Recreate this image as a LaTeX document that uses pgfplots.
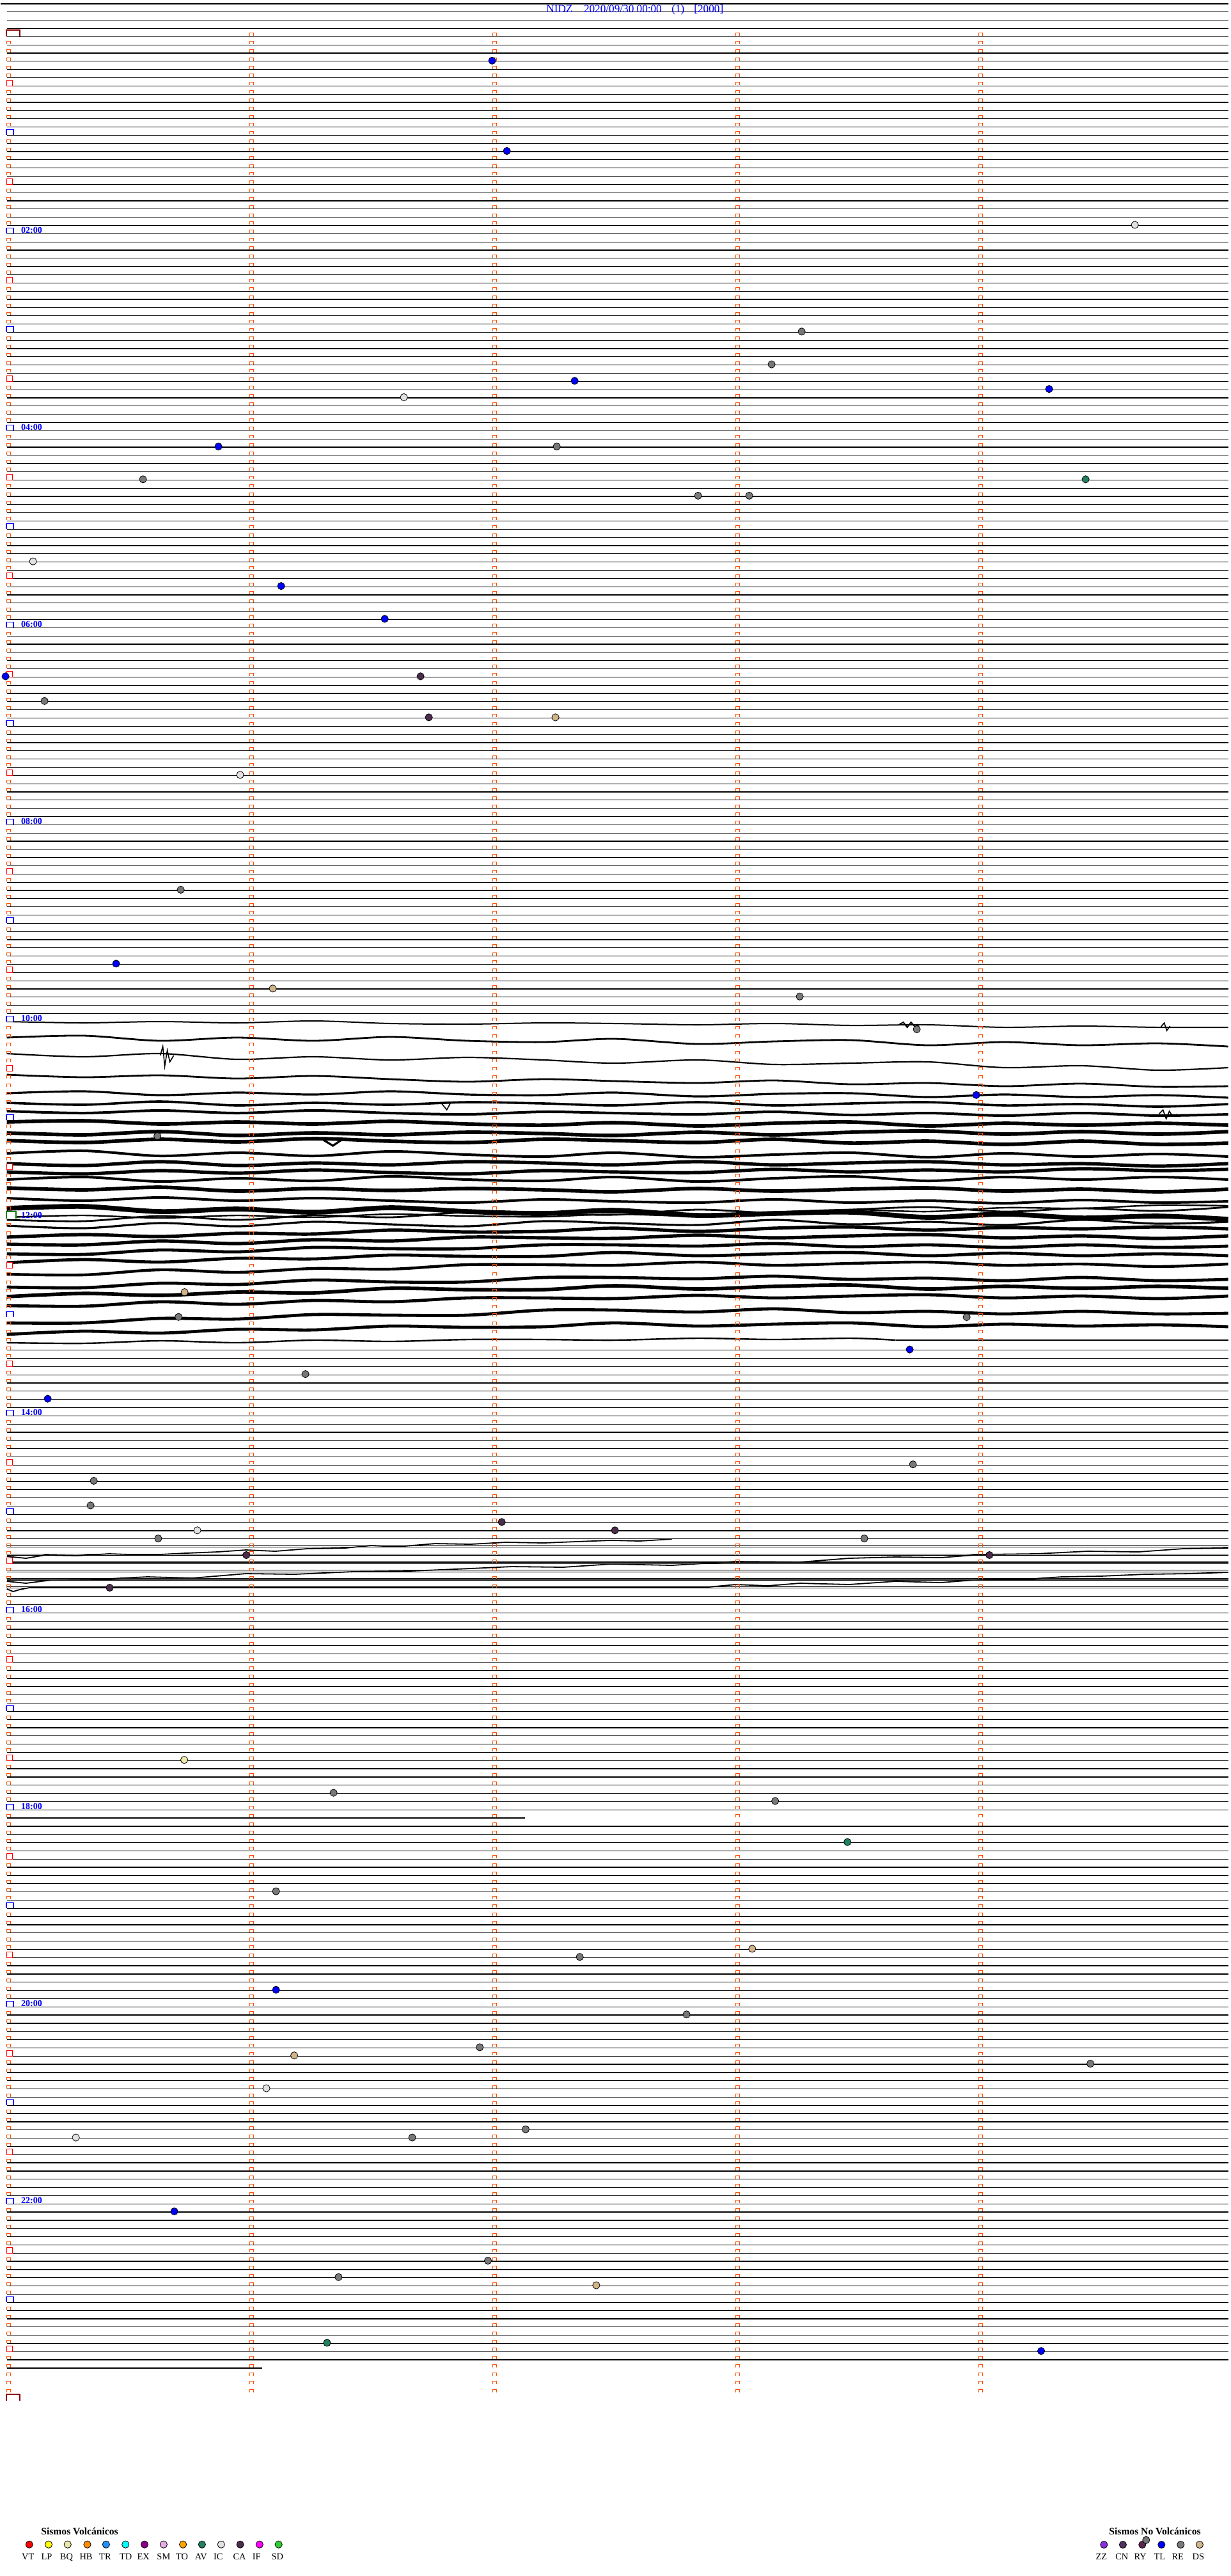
\documentclass[border=0pt]{standalone}
\usepackage{pgfplots}
\pgfplotsset{compat=1.18}
\usepackage{fontspec}
\setmainfont{Liberation Serif}
\definecolor{mkor}{RGB}{255,80,0}
\definecolor{dayred}{RGB}{139,0,0}
\definecolor{noon}{RGB}{0,128,0}
\definecolor{cVT}{RGB}{255,0,0}
\definecolor{cLP}{RGB}{255,255,0}
\definecolor{cBQ}{RGB}{238,232,170}
\definecolor{cHB}{RGB}{255,140,0}
\definecolor{cTR}{RGB}{30,144,255}
\definecolor{cTD}{RGB}{0,255,255}
\definecolor{cEX}{RGB}{139,0,139}
\definecolor{cSM}{RGB}{232,170,232}
\definecolor{cTO}{RGB}{255,165,0}
\definecolor{cAV}{RGB}{32,128,96}
\definecolor{cIC}{RGB}{225,225,225}
\definecolor{cCA}{RGB}{75,45,75}
\definecolor{cIF}{RGB}{255,0,255}
\definecolor{cSD}{RGB}{50,205,50}
\definecolor{cZZ}{RGB}{138,43,226}
\definecolor{cCN}{RGB}{80,50,90}
\definecolor{cRY}{RGB}{90,40,80}
\definecolor{cTL}{RGB}{0,0,255}
\definecolor{cRE}{RGB}{120,120,120}
\definecolor{cDS}{RGB}{210,180,140}

\pgfdeclareplotmark{hourmk}{%
 \pgfpathrectangle{\pgfpoint{-0.93pt}{0pt}}{\pgfpoint{2.86pt}{2.2pt}}%
 \pgfsetfillcolor{white}\pgfusepath{fill}%
 \pgfpathmoveto{\pgfpoint{-0.93pt}{0pt}}\pgfpathlineto{\pgfpoint{-0.93pt}{2.2pt}}%
 \pgfpathlineto{\pgfpoint{1.93pt}{2.2pt}}\pgfpathlineto{\pgfpoint{1.93pt}{0pt}}%
 \pgfusepath{stroke}}
\pgfdeclareplotmark{halfmk}{%
 \pgfpathrectangle{\pgfpoint{-0.75pt}{0pt}}{\pgfpoint{2.18pt}{2.25pt}}%
 \pgfsetfillcolor{white}\pgfusepath{fill,stroke}}
\pgfdeclareplotmark{daymk}{%
 \pgfpathrectangle{\pgfpoint{-1pt}{0pt}}{\pgfpoint{5.43pt}{2.65pt}}%
 \pgfsetfillcolor{white}\pgfusepath{fill}%
 \pgfpathmoveto{\pgfpoint{-1pt}{0pt}}\pgfpathlineto{\pgfpoint{-1pt}{2.65pt}}%
 \pgfpathlineto{\pgfpoint{4.43pt}{2.65pt}}\pgfpathlineto{\pgfpoint{4.43pt}{0pt}}%
 \pgfusepath{stroke}}
\pgfdeclareplotmark{noonmk}{%
 \pgfpathrectangle{\pgfpoint{-0.8pt}{0pt}}{\pgfpoint{3.68pt}{2.75pt}}%
 \pgfsetfillcolor{white}\pgfusepath{fill}%
 \pgfpathmoveto{\pgfpoint{-0.8pt}{0pt}}\pgfpathlineto{\pgfpoint{-0.8pt}{2.75pt}}%
 \pgfpathlineto{\pgfpoint{2.88pt}{2.75pt}}\pgfpathlineto{\pgfpoint{2.88pt}{0pt}}%
 \pgfusepath{stroke}}

\pgfplotsset{
 trace/.style={black, line join=round, smooth},
 ftrace/.style={black, line join=round},
 ev/.style={only marks, mark=*, mark size=1.4pt, mark options={fill=#1, draw=black, line width=0.2pt}},
 side/.style={mkor, line width=0.25pt, dash pattern=on 1.25pt off 1.95833pt},
 cap/.style={mkor, line width=1.6pt, dash pattern=on 0.25pt off 2.95833pt},
}
\tikzset{
 hlab/.style={anchor=base west, inner sep=0pt, text=blue, font=\fontsize{3.5}{4}\selectfont\bfseries},
 llab/.style={anchor=base, inner sep=0pt, font=\fontsize{3.6}{4}\selectfont},
 tlab/.style={anchor=base west, inner sep=0pt, text=blue, font=\fontsize{4.3}{5}\selectfont},
}

\begin{document}
\begin{tikzpicture}
\begin{axis}[
 scale only axis, width=477.5pt, height=1006.75pt,
 xmin=10, xmax=1920, ymin=0, ymax=4027, y dir=reverse,
 axis line style={draw=none}, xtick=\empty, major tick length=0pt,
 ytick={18.8,31.633,...,1585,2110.579,2123.412,...,2830,2854.893,2867.726,...,3690,2416.2,2429.1,2441.9,2454.7,2467.6,2480.4},
 yticklabels={}, ytick style={draw=none}, yticklabel style={overlay},
 ymajorgrids, grid style={black, line width=0.3pt},
 clip=false,
]
\path (axis cs:0,0) rectangle (axis cs:1920,4027);
% top line, broken trace at 18:05 and partial last trace
\addplot[black, line width=0.3pt] coordinates {(0,6) (1920,6)};
\addplot[black, line width=0.3pt] coordinates {(10,2842.06) (820,2842.06)};
\addplot[black, line width=0.3pt] coordinates {(10,3701.9) (409,3701.9)};

% ---- active traces 10:00 - 13:30
\addplot[trace, line width=0.5pt] coordinates {(10,1597)(130,1599)(250,1597)(370,1599)(490,1596)(610,1600)(730,1601)(850,1599)(960,1600)(1090,1602)(1210,1600)(1330,1603)(1450,1602)(1570,1606)(1690,1604)(1810,1606)(1920,1606)};
\addplot[trace, line width=0.7pt] coordinates {(10,1622)(130,1619)(250,1627)(370,1622)(490,1627)(610,1621)(730,1627)(850,1629)(960,1624)(1090,1632)(1210,1628)(1330,1626)(1450,1634)(1570,1629)(1690,1634)(1810,1631)(1920,1636)};
\addplot[trace, line width=0.55pt] coordinates {(10,1647)(130,1652)(250,1647)(370,1656)(490,1652)(610,1657)(730,1653)(850,1657)(960,1662)(1090,1657)(1210,1664)(1330,1662)(1450,1660)(1570,1669)(1690,1666)(1810,1673)(1920,1669)};
\addplot[trace, line width=0.7pt] coordinates {(10,1680)(130,1684)(250,1681)(370,1686)(490,1682)(610,1687)(730,1691)(850,1687)(960,1690)(1090,1693)(1210,1689)(1330,1695)(1450,1693)(1570,1698)(1690,1694)(1810,1699)(1920,1698)};
\addplot[trace, line width=0.8pt] coordinates {(10,1709)(130,1706)(250,1712)(370,1708)(490,1711)(610,1706)(730,1711)(850,1712)(960,1708)(1090,1714)(1210,1710)(1330,1709)(1450,1715)(1570,1711)(1690,1715)(1810,1712)(1920,1716)};
\addplot[trace, line width=0.9pt] coordinates {(10,1724)(130,1727)(250,1722)(370,1728)(490,1724)(610,1727)(730,1723)(850,1725)(960,1728)(1090,1723)(1210,1728)(1330,1725)(1450,1723)(1570,1728)(1690,1726)(1810,1730)(1920,1726)};
\addplot[trace, line width=1.0pt] coordinates {(10,1737)(130,1740)(250,1736)(370,1740)(490,1736)(610,1740)(730,1742)(850,1738)(960,1740)(1090,1742)(1210,1738)(1330,1743)(1450,1740)(1570,1744)(1690,1740)(1810,1744)(1920,1742)};
\addplot[trace, line width=1.4pt] coordinates {(10,1754)(130,1752)(250,1757)(370,1754)(490,1757)(610,1753)(730,1757)(850,1759)(960,1755)(1090,1760)(1210,1756)(1330,1754)(1450,1760)(1570,1756)(1690,1759)(1810,1756)(1920,1759)};
\addplot[trace, line width=1.4pt] coordinates {(10,1771)(130,1774)(250,1769)(370,1775)(490,1771)(610,1774)(730,1770)(850,1772)(960,1775)(1090,1770)(1210,1774)(1330,1770)(1450,1768)(1570,1773)(1690,1769)(1810,1773)(1920,1769)};
\addplot[trace, line width=1.4pt] coordinates {(10,1783)(130,1786)(250,1781)(370,1785)(490,1780)(610,1784)(730,1786)(850,1781)(960,1783)(1090,1786)(1210,1781)(1330,1787)(1450,1784)(1570,1789)(1690,1784)(1810,1789)(1920,1787)};
\addplot[trace, line width=1.0pt] coordinates {(10,1803)(130,1799)(250,1807)(370,1802)(490,1807)(610,1800)(730,1805)(850,1808)(960,1802)(1090,1809)(1210,1805)(1330,1802)(1450,1809)(1570,1803)(1690,1808)(1810,1804)(1920,1808)};
\addplot[trace, line width=1.3pt] coordinates {(10,1819)(130,1822)(250,1816)(370,1822)(490,1818)(610,1821)(730,1816)(850,1818)(960,1821)(1090,1816)(1210,1821)(1330,1818)(1450,1816)(1570,1821)(1690,1819)(1810,1823)(1920,1819)};
\addplot[trace, line width=1.3pt] coordinates {(10,1832)(130,1835)(250,1830)(370,1834)(490,1829)(610,1833)(730,1835)(850,1830)(960,1832)(1090,1833)(1210,1828)(1330,1832)(1450,1829)(1570,1832)(1690,1827)(1810,1830)(1920,1828)};
\addplot[trace, line width=1.0pt] coordinates {(10,1844)(130,1840)(250,1847)(370,1842)(490,1846)(610,1839)(730,1844)(850,1846)(960,1840)(1090,1847)(1210,1842)(1330,1839)(1450,1846)(1570,1840)(1690,1844)(1810,1840)(1920,1844)};
\addplot[trace, line width=1.4pt] coordinates {(10,1857)(130,1860)(250,1856)(370,1862)(490,1858)(610,1861)(730,1858)(850,1860)(960,1863)(1090,1858)(1210,1862)(1330,1859)(1450,1857)(1570,1862)(1690,1859)(1810,1863)(1920,1859)};
\addplot[trace, line width=1.0pt] coordinates {(10,1873)(130,1877)(250,1872)(370,1877)(490,1873)(610,1877)(730,1880)(850,1875)(960,1878)(1090,1880)(1210,1875)(1330,1880)(1450,1877)(1570,1881)(1690,1876)(1810,1880)(1920,1878)};
\addplot[trace, line width=1.9pt] coordinates {(10,1889)(130,1886)(250,1894)(370,1890)(490,1895)(610,1888)(730,1894)(850,1897)(960,1892)(1090,1900)(1210,1897)(1330,1895)(1450,1903)(1570,1898)(1690,1904)(1810,1901)(1920,1906)};
\addplot[trace, line width=0.7pt] coordinates {(10,1907)(130,1909)(250,1901)(370,1907)(490,1900)(610,1903)(730,1895)(850,1897)(960,1899)(1090,1891)(1210,1896)(1330,1891)(1450,1887)(1570,1894)(1690,1889)(1810,1893)(1920,1887)};
\addplot[trace, line width=0.8pt] coordinates {(10,1916)(130,1920)(250,1912)(370,1917)(490,1910)(610,1914)(730,1917)(850,1909)(960,1912)(1090,1915)(1210,1907)(1330,1914)(1450,1910)(1570,1915)(1690,1907)(1810,1913)(1920,1910)};
\addplot[trace, line width=0.6pt] coordinates {(10,1903)(130,1900)(250,1904)(370,1900)(490,1903)(610,1898)(730,1901)(850,1902)(960,1898)(1090,1901)(1210,1895)(1330,1891)(1450,1894)(1570,1888)(1690,1889)(1810,1884)(1920,1885)};
\addplot[trace, line width=1.3pt] coordinates {(10,1934)(130,1930)(250,1933)(370,1928)(490,1929)(610,1923)(730,1926)(850,1925)(960,1920)(1090,1925)(1210,1920)(1330,1918)(1450,1923)(1570,1919)(1690,1921)(1810,1918)(1920,1921)};
\addplot[trace, line width=1.3pt] coordinates {(10,1945)(130,1946)(250,1940)(370,1944)(490,1938)(610,1940)(730,1934)(850,1935)(960,1936)(1090,1931)(1210,1935)(1330,1932)(1450,1930)(1570,1935)(1690,1932)(1810,1936)(1920,1932)};
\addplot[trace, line width=1.2pt] coordinates {(10,1960)(130,1961)(250,1954)(370,1957)(490,1950)(610,1952)(730,1952)(850,1946)(960,1946)(1090,1948)(1210,1944)(1330,1949)(1450,1946)(1570,1950)(1690,1946)(1810,1950)(1920,1948)};
\addplot[trace, line width=1.2pt] coordinates {(10,1974)(130,1969)(250,1973)(370,1967)(490,1968)(610,1962)(730,1964)(850,1964)(960,1958)(1090,1963)(1210,1960)(1330,1958)(1450,1963)(1570,1959)(1690,1963)(1810,1960)(1920,1963)};
\addplot[trace, line width=1.1pt] coordinates {(10,1992)(130,1993)(250,1985)(370,1989)(490,1983)(610,1984)(730,1977)(850,1977)(960,1978)(1090,1973)(1210,1978)(1330,1975)(1450,1973)(1570,1978)(1690,1976)(1810,1980)(1920,1976)};
\addplot[trace, line width=1.2pt] coordinates {(10,2012)(130,2013)(250,2006)(370,2008)(490,2001)(610,2004)(730,2004)(850,1997)(960,1997)(1090,1999)(1210,1995)(1330,2000)(1450,1998)(1570,2002)(1690,1997)(1810,2002)(1920,2000)};
\addplot[trace, line width=1.4pt] coordinates {(10,2027)(130,2022)(250,2025)(370,2020)(490,2021)(610,2014)(730,2016)(850,2016)(960,2010)(1090,2015)(1210,2011)(1330,2009)(1450,2015)(1570,2011)(1690,2014)(1810,2011)(1920,2014)};
\addplot[trace, line width=1.2pt] coordinates {(10,2041)(130,2042)(250,2035)(370,2039)(490,2033)(610,2035)(730,2029)(850,2029)(960,2030)(1090,2025)(1210,2029)(1330,2026)(1450,2024)(1570,2029)(1690,2026)(1810,2030)(1920,2026)};
\addplot[trace, line width=1.2pt] coordinates {(10,2068)(130,2068)(250,2061)(370,2062)(490,2055)(610,2056)(730,2056)(850,2048)(960,2048)(1090,2051)(1210,2046)(1330,2052)(1450,2050)(1570,2054)(1690,2050)(1810,2054)(1920,2053)};
\addplot[trace, line width=1.2pt] coordinates {(10,2086)(130,2081)(250,2084)(370,2078)(490,2079)(610,2073)(730,2075)(850,2074)(960,2068)(1090,2073)(1210,2070)(1330,2068)(1450,2074)(1570,2070)(1690,2073)(1810,2071)(1920,2074)};
\addplot[trace, line width=0.6pt] coordinates {(10,2099)(130,2100)(250,2096)(370,2099)(490,2095)(610,2097)(730,2094)(850,2094)(960,2095)(1090,2092)(1210,2094)(1330,2092)(1400,2095)};
\addplot[ftrace, line width=0.6pt] coordinates {(1400,2095)(1920,2095)};
% spikes and bursts
\addplot[black, line width=0.4pt] coordinates {(250,1650)(254,1636)(257,1667)(261,1642)(265,1660)(271,1650)};
\addplot[black, line width=0.4pt] coordinates {(690,1725)(698,1735)(704,1724)};
\addplot[black, line width=0.4pt] coordinates {(1812,1741)(1818,1735)(1823,1749)(1828,1737)(1833,1745)(1840,1742)};
\addplot[black, line width=0.5pt] coordinates {(1405,1602)(1412,1598)(1418,1606)(1424,1598)(1430,1605)(1437,1602)};
\addplot[black, line width=0.4pt] coordinates {(1815,1605)(1820,1599)(1824,1611)(1829,1604)};
\addplot[black, line width=0.8pt] coordinates {(505,1782)(520,1791)(535,1781)};

% ---- 15:00 drifting traces
\addplot[ftrace, line width=0.45pt] coordinates {(10,2433)(40,2436)(70,2431)(120,2432)(170,2429)(230,2431)(290,2428)(340,2426)(384,2423)(430,2425)(480,2421)(539,2420)(580,2416)(620,2418)(680,2413)(735,2414)(790,2411)(850,2412)(900,2410)(955,2408)(1000,2409)(1050,2406)};
\addplot[ftrace, line width=0.45pt] coordinates {(10,2472)(40,2475)(80,2470)(150,2469)(230,2465)(300,2467)(384,2460)(460,2461)(551,2457)(640,2456)(735,2452)(800,2449)(880,2450)(955,2445)(1050,2447)(1150,2441)(1250,2442)(1327,2436)(1400,2434)(1470,2435)(1536,2430)(1620,2429)(1700,2425)(1780,2426)(1850,2421)(1920,2420)};
\addplot[ftrace, line width=0.45pt] coordinates {(10,2484)(20,2488)(30,2485)(50,2481)(1107,2481)(1150,2477)(1200,2479)(1250,2475)(1327,2477)(1400,2472)(1470,2474)(1536,2469)(1600,2469)(1660,2465)(1720,2464)(1790,2461)(1860,2460)(1920,2458)};

% ---- minute marks (orange)
\addplot[side] coordinates {(10.3,51.3) (10.3,3740)};
\addplot[side] coordinates {(15.7,51.3) (15.7,3740)};
\addplot[cap] coordinates {(13,51.3) (13,3740)};
\addplot[side] coordinates {(390.3,51.3) (390.3,3740)};
\addplot[side] coordinates {(395.7,51.3) (395.7,3740)};
\addplot[cap] coordinates {(393,51.3) (393,3740)};
\addplot[side] coordinates {(770.3,51.3) (770.3,3740)};
\addplot[side] coordinates {(775.7,51.3) (775.7,3740)};
\addplot[cap] coordinates {(773,51.3) (773,3740)};
\addplot[side] coordinates {(1150.3,51.3) (1150.3,3740)};
\addplot[side] coordinates {(1155.7,51.3) (1155.7,3740)};
\addplot[cap] coordinates {(1153,51.3) (1153,3740)};
\addplot[side] coordinates {(1530.3,51.3) (1530.3,3740)};
\addplot[side] coordinates {(1535.7,51.3) (1535.7,3740)};
\addplot[cap] coordinates {(1533,51.3) (1533,3740)};
% ---- hour / half-hour marks
\addplot[only marks, mark=halfmk, mark options={draw=red, line width=0.3pt}] coordinates {(13,134.30)(13,288.29)(13,442.29)(13,596.29)(13,750.28)(13,904.28)(13,1058.27)(13,1212.27)(13,1366.27)(13,1520.26)(13,1674.26)(13,1828.25)(13,1982.25)(13,2136.24)(13,2290.24)(13,2444.24)(13,2598.23)(13,2752.23)(13,2906.23)(13,3060.22)(13,3214.22)(13,3368.21)(13,3522.21)(13,3676.21)};
\addplot[only marks, mark=hourmk, mark options={draw=blue, line width=0.45pt}] coordinates {(13,211.30)(13,365.29)(13,519.29)(13,673.28)(13,827.28)(13,981.28)(13,1135.27)(13,1289.27)(13,1443.26)(13,1597.26)(13,1751.26)(13,2059.25)(13,2213.24)(13,2367.24)(13,2521.24)(13,2675.23)(13,2829.23)(13,2983.22)(13,3137.22)(13,3291.22)(13,3445.21)(13,3599.21)};
\addplot[only marks, mark=noonmk, mark options={draw=noon, line width=0.5pt}] coordinates {(13,1905.25)};
\addplot[only marks, mark=daymk, mark options={draw=dayred, line width=0.55pt}] coordinates {(13,57.30)(13,3753.20)};

% ---- hour labels
\node[hlab] at (axis cs:31.7,364.3) {02:00};
\node[hlab] at (axis cs:31.7,672.3) {04:00};
\node[hlab] at (axis cs:31.7,980.3) {06:00};
\node[hlab] at (axis cs:31.7,1288.3) {08:00};
\node[hlab] at (axis cs:31.7,1596.3) {10:00};
\node[hlab] at (axis cs:31.7,1904.3) {12:00};
\node[hlab] at (axis cs:31.7,2212.2) {14:00};
\node[hlab] at (axis cs:31.7,2520.2) {16:00};
\node[hlab] at (axis cs:31.7,2828.2) {18:00};
\node[hlab] at (axis cs:31.7,3136.2) {20:00};
\node[hlab] at (axis cs:31.7,3444.2) {22:00};

% ---- events
\addplot[ev=cTL] coordinates {(769,94.8)(792,236)(898,595.3)(1640,608.1)(341,698)(439,916.1)(601,967.4)(8,1057.3)(181,1506.4)(1526,1711.8)(1422,2109.6)(74,2186.6)(431,3110.6)(272,3457)(1627.5,3675.2)};
\addplot[ev=cRE] coordinates {(1253,518.3)(1206,569.6)(870,698)(223,749.3)(1091,774.9)(1171,774.9)(69,1095.8)(282,1390.9)(1250,1557.8)(1433,1609)(245.5,1776)(278.6,2058.7)(1511,2059)(477,2148.1)(1427,2289.2)(146,2314.9)(141,2353.4)(246.8,2405)(1351,2405)(521,2802.6)(1211.6,2815.4)(431,2956.6)(906,3059.2)(1073,3149.1)(749.6,3200.4)(1704.5,3226.1)(644,3341.5)(821.4,3328.7)(528.8,3559.7)(762.4,3534)};
\addplot[ev=cIC] coordinates {(1774,351.5)(631,621)(51,877.6)(375,1211.3)(308,2392.3)(415.9,3264.5)(118,3341.5)};
\addplot[ev=cDS] coordinates {(868,1121.4)(426,1545.3)(288,2020)(1175.7,3046.4)(459.5,3213.2)(931.8,3572.5)};
\addplot[ev=cAV] coordinates {(1697,749.3)(1324.6,2879.6)(510.8,3662.4)};
\addplot[ev=cCA] coordinates {(657,1057.3)(670,1121.4)(784,2379.3)(961,2392.3)(384.6,2431)(1546.6,2431)(170.9,2482)};
\addplot[ev=cBQ] coordinates {(287.5,2751.2)};

% ---- title
\node[tlab] at (axis cs:853,19) {NIDZ};
\node[tlab] at (axis cs:911.6,19) {2020/09/30 00:00};
\node[tlab] at (axis cs:1049,19) {(1)};
\node[tlab] at (axis cs:1084,19) {[2000]};

% ---- legends
\node[anchor=base west, inner sep=0pt, font=\fontsize{3.9}{4.5}\selectfont\bfseries] at (axis cs:63,3962.3) {Sismos Volcánicos};
\node[anchor=base west, inner sep=0pt, font=\fontsize{3.9}{4.5}\selectfont\bfseries] at (axis cs:1733,3962.3) {Sismos No Volcánicos};
\addplot[ev=cVT] coordinates {(45.2,3977.7)};
\addplot[ev=cLP] coordinates {(75.4,3977.7)};
\addplot[ev=cBQ] coordinates {(105.2,3977.7)};
\addplot[ev=cHB] coordinates {(135.9,3977.7)};
\addplot[ev=cTR] coordinates {(165.3,3977.7)};
\addplot[ev=cTD] coordinates {(195.6,3977.7)};
\addplot[ev=cEX] coordinates {(225.4,3977.7)};
\addplot[ev=cSM] coordinates {(255.3,3977.7)};
\addplot[ev=cTO] coordinates {(285.5,3977.7)};
\addplot[ev=cAV] coordinates {(315.3,3977.7)};
\addplot[ev=cIC] coordinates {(345.2,3977.7)};
\addplot[ev=cCA] coordinates {(375.0,3977.7)};
\addplot[ev=cIF] coordinates {(405.3,3977.7)};
\addplot[ev=cSD] coordinates {(435.1,3977.7)};
\addplot[ev=cZZ] coordinates {(1725.7,3978)};
\addplot[ev=cCN] coordinates {(1755.3,3978)};
\addplot[ev=cRY] coordinates {(1785.7,3978)};
\addplot[ev=cRE] coordinates {(1791.7,3970.7)};
\addplot[ev=cTL] coordinates {(1815.7,3978)};
\addplot[ev=cRE] coordinates {(1845.7,3978)};
\addplot[ev=cDS] coordinates {(1875.3,3978)};
\node[llab] at (axis cs:43.2,4001.7) {VT};
\node[llab] at (axis cs:72.3,4001.7) {LP};
\node[llab] at (axis cs:103.3,4001.7) {BQ};
\node[llab] at (axis cs:134,4001.7) {HB};
\node[llab] at (axis cs:163.8,4001.7) {TR};
\node[llab] at (axis cs:196,4001.7) {TD};
\node[llab] at (axis cs:223.5,4001.7) {EX};
\node[llab] at (axis cs:255.3,4001.7) {SM};
\node[llab] at (axis cs:284,4001.7) {TO};
\node[llab] at (axis cs:313.8,4001.7) {AV};
\node[llab] at (axis cs:340.6,4001.7) {IC};
\node[llab] at (axis cs:373.9,4001.7) {CA};
\node[llab] at (axis cs:400.7,4001.7) {IF};
\node[llab] at (axis cs:433.2,4001.7) {SD};
\node[llab] at (axis cs:1721.7,4001.7) {ZZ};
\node[llab] at (axis cs:1753.7,4001.7) {CN};
\node[llab] at (axis cs:1782.5,4001.7) {RY};
\node[llab] at (axis cs:1812.7,4001.7) {TL};
\node[llab] at (axis cs:1841.2,4001.7) {RE};
\node[llab] at (axis cs:1873.3,4001.7) {DS};
\end{axis}
\end{tikzpicture}
\end{document}
